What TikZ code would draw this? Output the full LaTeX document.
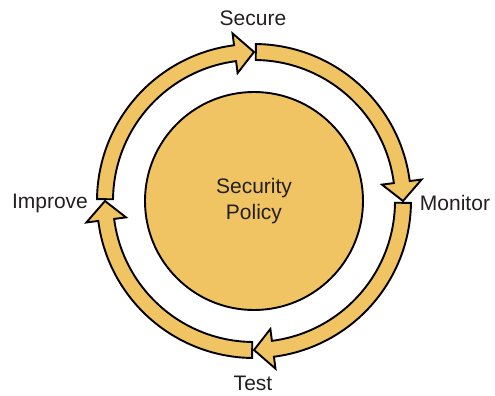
\documentclass[tikz,border=0pt]{standalone}
\usepackage{fontspec}
\setmainfont{Liberation Sans}
\definecolor{gold}{RGB}{240,196,98}
\definecolor{ink}{RGB}{35,31,32}
\begin{document}
\begin{tikzpicture}[x=1pt, y=1pt,
    ring/.style={fill=gold, draw=black, line width=1.9pt, line join=miter},
    lbl/.style={text=ink, font=\fontsize{21}{26}\selectfont}]
  \useasboundingbox (-254,-195) rectangle (241,201);

  \node[circle, fill=gold, draw=black, line width=1.9pt, minimum size=218, align=center, lbl] (policy) at (0,0) {Security\\Policy};

  \foreach \a in {90,0,-90,-180}{
    \pgfmathsetmacro{\s}{\a-0.7}
    \pgfmathsetmacro{\b}{\a-90}
    \pgfmathsetmacro{\h}{\a-90+7.3}
    \draw[ring] (\s:157) arc[start angle=\s, end angle=\h, radius=157]
      -- (\h:169) -- (\b:149) -- (\h:129) -- (\h:141)
      arc[start angle=\h, end angle=\s, radius=141] -- cycle;
  }

  \node[lbl] (secure)  at (-1,183)  {Secure};
  \node[lbl] (monitor) at (201,-2)  {Monitor};
  \node[lbl] (test)    at (-1,-182) {Test};
  \node[lbl] (improve) at (-204,-2) {Improve};
\end{tikzpicture}
\end{document}
